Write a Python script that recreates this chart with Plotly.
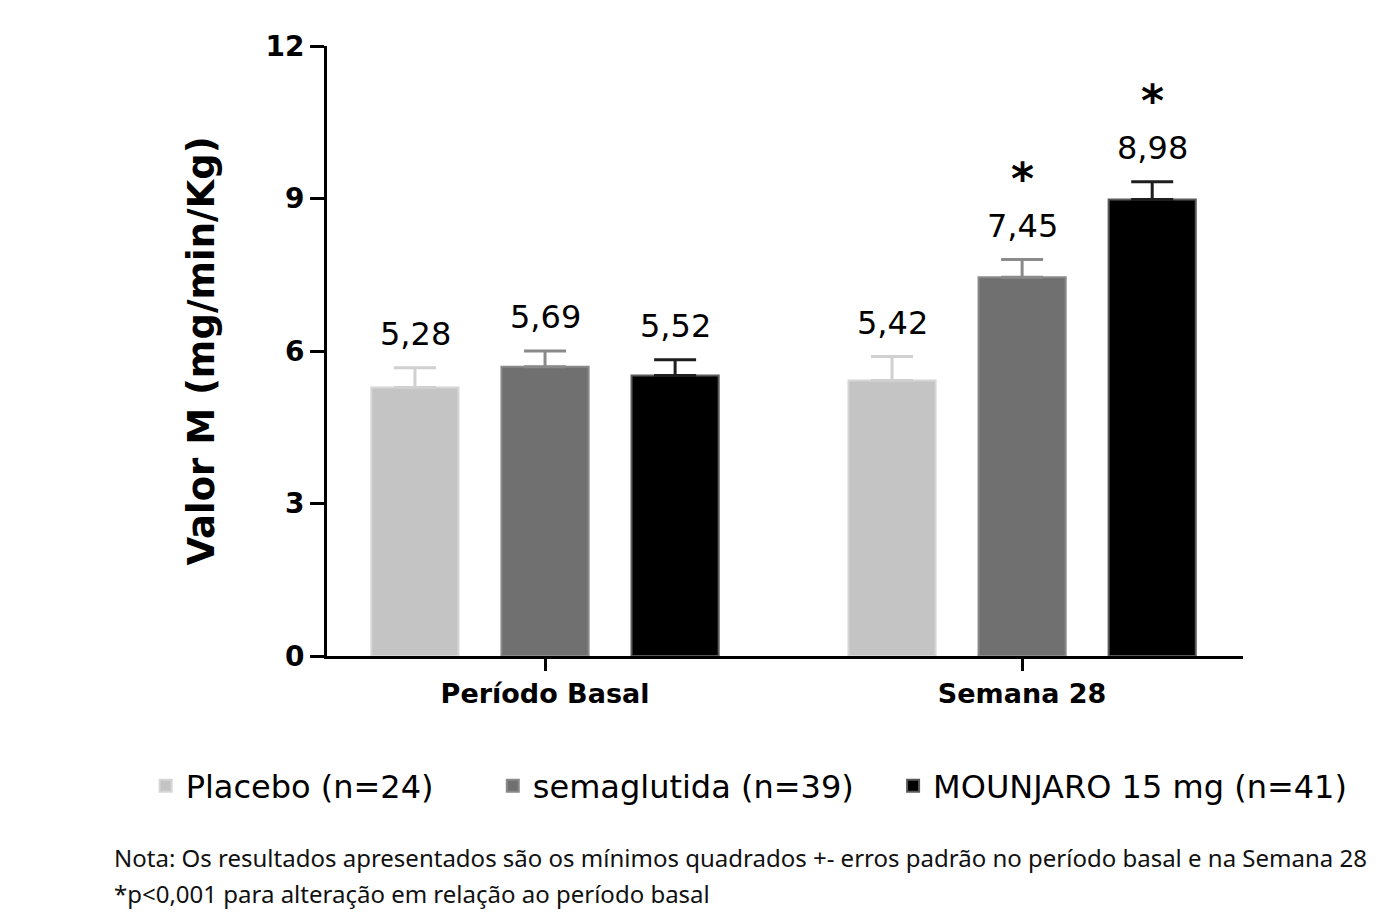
import plotly.graph_objects as go

periods = ["Período Basal", "Semana 28"]
series_names = ["Placebo (n=24)", "semaglutida (n=39)", "MOUNJARO 15 mg (n=41)"]
placebo = [5.28, 5.42]
semaglutida = [5.69, 7.45]
mounjaro = [5.52, 8.98]
placebo_se = [0.39, 0.47]
semaglutida_se = [0.31, 0.35]
mounjaro_se = [0.31, 0.35]
placebo_sig = [False, False]
semaglutida_sig = [False, True]
mounjaro_sig = [False, True]
y_ticks = [0, 3, 6, 9, 12]
note_lines = [
    "Nota: Os resultados apresentados são os mínimos quadrados +- erros padrão no período basal e na Semana 28",
    "*p<0,001 para alteração em relação ao período basal",
]

values = [placebo, semaglutida, mounjaro]
errors = [placebo_se, semaglutida_se, mounjaro_se]
signif = [placebo_sig, semaglutida_sig, mounjaro_sig]
fills = ["#c4c4c4", "#707070", "#000000"]
edges = ["#d6d6d6", "#8a8a8a", "#5a5a5a"]
err_colors = ["#d0d0d0", "#8a8a8a", "#1e1e1e"]
legend_x = [-0.198, 0.181, 0.618]
legend_ids = ["legend", "legend2", "legend3"]

fig = go.Figure()
for i, name in enumerate(series_names):
    fig.add_trace(go.Bar(
        x=periods, y=values[i], name=name, legend=legend_ids[i],
        marker=dict(color=fills[i], line=dict(color=edges[i], width=2)),
        error_y=dict(type="data", symmetric=False, array=errors[i],
                     arrayminus=[0] * len(periods),
                     color=err_colors[i], thickness=3, width=21),
    ))

# value labels and significance stars above the error bars
slot_px = 130
for i in range(len(series_names)):
    for j, p in enumerate(periods):
        top = values[i][j] + errors[i][j]
        fig.add_annotation(x=p, y=top, xref="x", yref="y", xshift=(i - 1) * slot_px,
                           yshift=13, yanchor="bottom", showarrow=False,
                           text=f"{values[i][j]:.2f}".replace(".", ","),
                           font=dict(family="DejaVu Sans", size=32, color="black"))
        if signif[i][j]:
            fig.add_annotation(x=p, y=top, xref="x", yref="y", xshift=(i - 1) * slot_px,
                               yshift=54, yanchor="bottom", showarrow=False, text="*",
                               font=dict(family="DejaVu Sans", size=44, color="black",
                                         weight="bold"))

for k, line in enumerate(note_lines):
    fig.add_annotation(x=-0.2347, y=-0.331 - 0.058 * k, xref="paper", yref="paper",
                       xanchor="left", yanchor="middle", showarrow=False, text=line,
                       font=dict(family="Noto Sans", size=24, color="#111111"))

legend_common = dict(orientation="h", y=-0.213, yanchor="middle", xanchor="left",
                     font=dict(family="DejaVu Sans", size=32, color="black"),
                     bgcolor="rgba(0,0,0,0)")
fig.update_layout(
    barmode="group", bargap=0.182, bargroupgap=0.33,
    width=1399, height=924,
    margin=dict(l=319, r=164, t=38, b=276),
    paper_bgcolor="white", plot_bgcolor="white",
    showlegend=True,
    legend=dict(x=legend_x[0], **legend_common),
    legend2=dict(x=legend_x[1], **legend_common),
    legend3=dict(x=legend_x[2], **legend_common),
    xaxis=dict(range=[-0.457, 1.463], showline=True, linecolor="black", linewidth=3,
               ticks="outside", ticklen=12, tickwidth=3, tickcolor="black",
               tickfont=dict(family="DejaVu Sans", size=27, color="black", weight="bold"),
               showgrid=False, zeroline=False),
    yaxis=dict(range=[0, 12], tickvals=y_ticks, showline=True, linecolor="black", linewidth=3,
               ticks="outside", ticklen=14, tickwidth=3, tickcolor="black",
               tickfont=dict(family="DejaVu Sans", size=28, color="black", weight="bold"),
               showgrid=False, zeroline=False,
               title=dict(text="Valor M (mg/min/Kg)", standoff=40,
                          font=dict(family="DejaVu Sans", size=37, color="black", weight="bold"))),
)

fig.write_html("out.html")
